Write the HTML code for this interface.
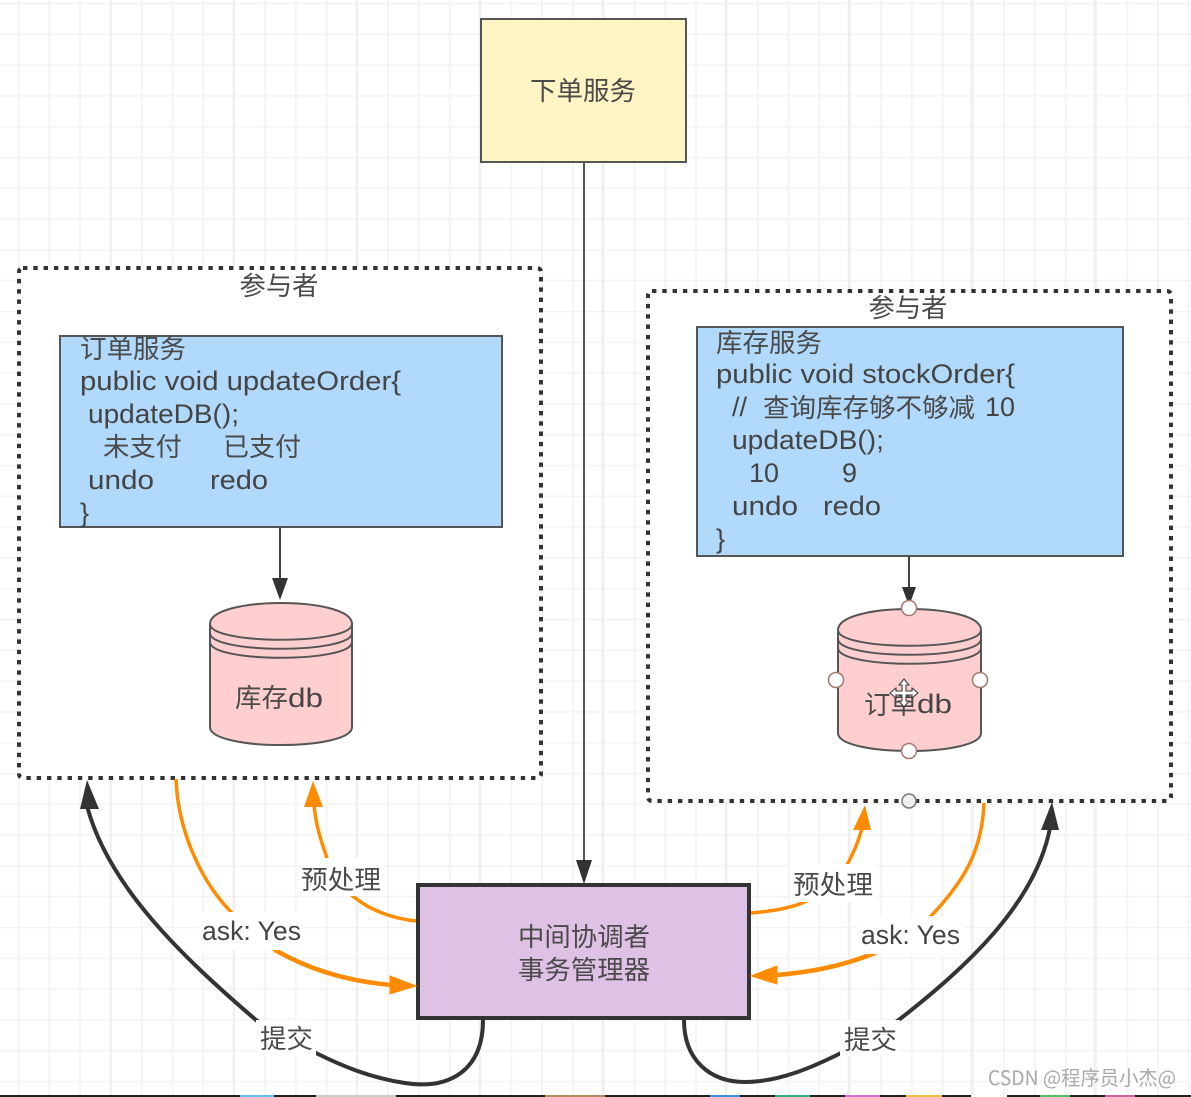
<!DOCTYPE html>
<html><head><meta charset="utf-8"><style>
html,body{margin:0;padding:0;background:#fff}
svg{display:block;filter:blur(0.35px)}
text{font-family:"Liberation Sans","Noto Sans CJK SC",sans-serif;font-size:27px;fill:#444}
.z{font-family:"Noto Sans CJK SC","Liberation Sans",sans-serif;font-size:26px;fill:#4a4a4a}
</style></head><body>
<svg width="1191" height="1097" viewBox="0 0 1191 1097" xmlns="http://www.w3.org/2000/svg">
<defs>
<pattern id="g" x="17.5" y="2.5" width="30.8" height="30.8" patternUnits="userSpaceOnUse"><path d="M0 1H30.8M1 0V30.8" stroke="#f3f3f3" stroke-width="1.6" fill="none"/></pattern>
<pattern id="G" x="109.7" y="2.5" width="123" height="123" patternUnits="userSpaceOnUse"><path d="M1 0V123" stroke="#eeeeee" stroke-width="2" fill="none"/></pattern>
</defs>
<rect width="1191" height="1097" fill="#fff"/>
<rect width="1191" height="1097" fill="url(#g)"/>
<rect width="1191" height="1097" fill="url(#G)"/>

<!-- containers -->
<rect x="19" y="268" width="522" height="510" rx="4" fill="#fff" stroke="#333" stroke-width="4" stroke-dasharray="4.4 5.9"/>
<rect x="648" y="291" width="523" height="510" rx="4" fill="#fff" stroke="#333" stroke-width="4" stroke-dasharray="4.4 5.9"/>
<text class="z" x="279" y="295" text-anchor="middle" textLength="79" lengthAdjust="spacingAndGlyphs">参与者</text>
<text class="z" x="908" y="317" text-anchor="middle" textLength="79" lengthAdjust="spacingAndGlyphs">参与者</text>

<!-- order service -->
<rect x="481" y="19" width="205" height="143" fill="#fff4c3" stroke="#555" stroke-width="2"/>
<text class="z" x="583" y="100" text-anchor="middle" textLength="106" lengthAdjust="spacingAndGlyphs">下单服务</text>
<path d="M584 162V862" stroke="#555" stroke-width="2" fill="none"/>
<path d="M584 884L576 860H592Z" fill="#333"/>

<!-- left blue -->
<rect x="60" y="336" width="442" height="191" fill="#b1d9fc" stroke="#555" stroke-width="2"/>
<text class="z" x="80" y="358" textLength="106" lengthAdjust="spacingAndGlyphs">订单服务</text>
<text x="80" y="390" textLength="321" lengthAdjust="spacingAndGlyphs">public void updateOrder{</text>
<text x="88" y="423" textLength="151" lengthAdjust="spacingAndGlyphs">updateDB();</text>
<text class="z" x="103" y="456" textLength="79" lengthAdjust="spacingAndGlyphs">未支付</text>
<text class="z" x="223" y="456" textLength="78" lengthAdjust="spacingAndGlyphs">已支付</text>
<text x="88" y="489" textLength="66" lengthAdjust="spacingAndGlyphs">undo</text>
<text x="210" y="489" textLength="58" lengthAdjust="spacingAndGlyphs">redo</text>
<text x="80" y="522">}</text>

<!-- right blue -->
<rect x="697" y="327" width="426" height="229" fill="#b1d9fc" stroke="#555" stroke-width="2"/>
<text class="z" x="716" y="352" textLength="106" lengthAdjust="spacingAndGlyphs">库存服务</text>
<text x="716" y="383" textLength="299" lengthAdjust="spacingAndGlyphs">public void stockOrder{</text>
<text x="732" y="416">//</text>
<text class="z" x="763" y="417" textLength="212" lengthAdjust="spacingAndGlyphs">查询库存够不够减</text>
<text x="985" y="416" textLength="30" lengthAdjust="spacingAndGlyphs">10</text>
<text x="732" y="449" textLength="152" lengthAdjust="spacingAndGlyphs">updateDB();</text>
<text x="749" y="482" textLength="30" lengthAdjust="spacingAndGlyphs">10</text>
<text x="842" y="482">9</text>
<text x="732" y="515" textLength="66" lengthAdjust="spacingAndGlyphs">undo</text>
<text x="823" y="515" textLength="58" lengthAdjust="spacingAndGlyphs">redo</text>
<text x="716" y="548">}</text>

<!-- left db -->
<path d="M280 527V580" stroke="#444" stroke-width="2" fill="none"/>
<path d="M280 600L272 578H288Z" fill="#333"/>
<path d="M210 624C210 596 352 596 352 624V727C352 751 210 751 210 727Z" fill="#ffcfcf" stroke="#555" stroke-width="2"/>
<path d="M210 624C210 645 352 645 352 624M210 633C210 654 352 654 352 633M210 642C210 663 352 663 352 642" fill="none" stroke="#555" stroke-width="2"/>
<text class="z" x="235" y="707" textLength="53" lengthAdjust="spacingAndGlyphs">库存</text>
<text x="288" y="707" textLength="35" lengthAdjust="spacingAndGlyphs">db</text>

<!-- right db -->
<path d="M909 556V588" stroke="#444" stroke-width="2" fill="none"/>
<path d="M909 606L902 587H916Z" fill="#333"/>
<path d="M838 630C838 602 981 602 981 630V733C981 757 838 757 838 733Z" fill="#ffcfcf" stroke="#555" stroke-width="2"/>
<path d="M838 630C838 651 981 651 981 630M838 639C838 660 981 660 981 639M838 648C838 669 981 669 981 648" fill="none" stroke="#555" stroke-width="2"/>
<text class="z" x="864" y="714" textLength="53" lengthAdjust="spacingAndGlyphs">订单</text>
<text x="917" y="713" textLength="35" lengthAdjust="spacingAndGlyphs">db</text>
<g fill="#fff" stroke="#a8786f" stroke-width="1.5">
<circle cx="909" cy="608" r="7.5"/><circle cx="836" cy="680" r="7.5"/><circle cx="980" cy="680" r="7.5"/><circle cx="909" cy="751" r="7.5"/>
</g>
<path d="M904 679l5 6h-3v6h6v-3l6 5-6 5v-3h-6v6h3l-5 6-5-6h3v-6h-6v3l-6-5 6-5v3h6v-6h-3z" fill="#fff" stroke="#333" stroke-width="1"/>
<circle cx="909" cy="801" r="7" fill="#f0f0f0" stroke="#777" stroke-width="1.5"/>

<!-- coordinator -->
<rect x="418" y="885" width="331" height="133" fill="#e0c1e6" stroke="#333" stroke-width="4"/>
<text class="z" x="584" y="946" text-anchor="middle" textLength="132" lengthAdjust="spacingAndGlyphs">中间协调者</text>
<text class="z" x="584" y="979" text-anchor="middle" textLength="132" lengthAdjust="spacingAndGlyphs">事务管理器</text>

<!-- connectors left -->
<path d="M483 1020C483 1070 450 1090 405 1083C370 1078 340 1065 316 1053C290 1040 270 1030 256 1020C180 955 108 885 87 806" fill="none" stroke="#333" stroke-width="4"/>
<path d="M87 780L80 809H99Z" fill="#333"/>
<path d="M176 779C178 830 200 880 231 912C245 930 260 940 275 950" fill="none" stroke="#ff8c00" stroke-width="3.5"/>
<path d="M275 950C315 973 355 982 392 985" fill="none" stroke="#ff8c00" stroke-width="4.5"/>
<path d="M416 986L390 976V994Z" fill="#ff8c00" stroke="#ff8c00"/>
<path d="M416 921C390 918 370 910 354 897C340 885 332 875 327 858C320 838 316 825 314 805" fill="none" stroke="#ff8c00" stroke-width="3.5"/>
<path d="M313 781L304 807H323Z" fill="#ff8c00"/>

<!-- connectors right -->
<path d="M684 1020C684 1060 710 1082 745 1082C780 1082 815 1066 841 1053C860 1043 880 1033 900 1019C965 968 1035 905 1050 828" fill="none" stroke="#333" stroke-width="4"/>
<path d="M1052 802L1041 830H1059Z" fill="#333"/>
<path d="M751 913C775 911 790 908 802 903C825 895 840 880 847 865C855 850 859 840 862 828" fill="none" stroke="#ff8c00" stroke-width="3.5"/>
<path d="M865 805L853 830H871Z" fill="#ff8c00"/>
<path d="M984 803C982 850 965 880 932 915C915 932 900 942 875 953" fill="none" stroke="#ff8c00" stroke-width="3.5"/>
<path d="M875 953C840 967 810 972 777 975" fill="none" stroke="#ff8c00" stroke-width="4.5"/>
<path d="M751 976L777 966V984Z" fill="#ff8c00" stroke="#ff8c00"/>

<!-- labels -->
<g fill="#fff">
<rect x="298" y="858" width="86" height="38"/>
<rect x="198" y="912" width="106" height="38"/>
<rect x="256" y="1020" width="60" height="36"/>
<rect x="790" y="864" width="86" height="38"/>
<rect x="858" y="916" width="106" height="38"/>
<rect x="840" y="1020" width="60" height="36"/>
</g>
<text class="z" x="301" y="889" textLength="80" lengthAdjust="spacingAndGlyphs">预处理</text>
<text x="202" y="940" textLength="99" lengthAdjust="spacingAndGlyphs">ask: Yes</text>
<text class="z" x="260" y="1048" textLength="53" lengthAdjust="spacingAndGlyphs">提交</text>
<text class="z" x="793" y="894" textLength="80" lengthAdjust="spacingAndGlyphs">预处理</text>
<text x="861" y="944" textLength="99" lengthAdjust="spacingAndGlyphs">ask: Yes</text>
<text class="z" x="844" y="1049" textLength="53" lengthAdjust="spacingAndGlyphs">提交</text>

<!-- watermark -->
<text class="z" x="988" y="1085" textLength="188" lengthAdjust="spacingAndGlyphs" style="font-size:20px;fill:#a8a8a8">CSDN @程序员小杰@</text>

<!-- bottom strip -->
<rect x="0" y="1095" width="971" height="2" fill="#222"/>
<rect x="1007" y="1095" width="184" height="2" fill="#222"/>
<rect x="240" y="1095" width="34" height="2" fill="#5cc0f5"/>
<rect x="316" y="1095" width="80" height="2" fill="#ccc"/>
<rect x="545" y="1095" width="60" height="2" fill="#b58a60"/>
<rect x="710" y="1095" width="30" height="2" fill="#3a8ee0"/>
<rect x="775" y="1095" width="35" height="2" fill="#30b080"/>
<rect x="845" y="1095" width="35" height="2" fill="#e070d0"/>
<rect x="906" y="1095" width="36" height="2" fill="#f0c040"/>
<rect x="1040" y="1095" width="30" height="2" fill="#50c060"/>
<rect x="1105" y="1095" width="30" height="2" fill="#d060a0"/>
</svg>
</body></html>
